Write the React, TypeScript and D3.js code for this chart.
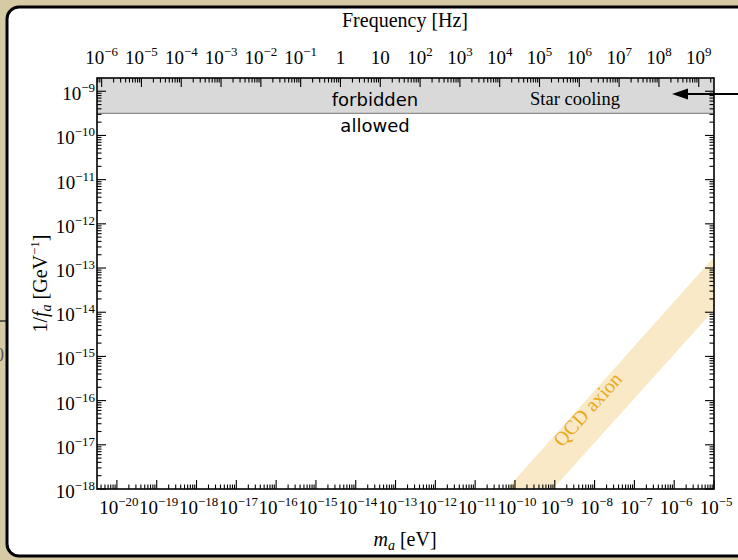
import React from 'react'
import * as d3 from 'd3'

// values
const massExponents = [-20, -19, -18, -17, -16, -15, -14, -13, -12, -11, -10, -9, -8, -7, -6, -5]
const freqLabels = ['−6', '−5', '−4', '−3', '−2', '−1', '1', '10', '2', '3', '4', '5', '6', '7', '8', '9']
const freqExponents = [-6, -5, -4, -3, -2, -1, 0, 1, 2, 3, 4, 5, 6, 7, 8, 9]
const invFaExponents = [-18, -17, -16, -15, -14, -13, -12, -11, -10, -9]
const starCoolingLimit = 10 ** -9.5
// QCD axion band edges (mass in eV, 1/f_a in GeV^-1)
const qcdMass = [1e-11, 1e-5]
const qcdUpper = [10 ** -18.8, 10 ** -12.75]
const qcdLower = [10 ** -19.95, 10 ** -13.95]

const HZ_PER_EV = 2.418e14

const W = 738
const H = 560
const left = 97, right = 714, top = 78, bottom = 489

const serif = '"Liberation Serif", "Times New Roman", serif'
const sans = '"DejaVu Sans", sans-serif'

function Pow({ x, y, exp, anchor, size = 19 }: any) {
  return (
    <text x={x} y={y} textAnchor={anchor} fontFamily={serif} fontSize={size} fill="#000">
      10<tspan dy={-8} fontSize={size * 0.68}>{exp}</tspan>
    </text>
  )
}

export default function App() {
  const x = d3.scaleLog().domain([10 ** -20.5, 1e-5]).range([left, right])
  const y = d3.scaleLog().domain([1e-18, 10 ** -8.7]).range([bottom, top])
  const xf = (f: number) => x(f / HZ_PER_EV)

  // minor tick values for each decade
  const minors = (lo: number, hi: number) => {
    const out: number[] = []
    for (let e = lo; e <= hi; e++) for (let k = 2; k <= 9; k++) out.push(k * 10 ** e)
    return out
  }
  const inX = (v: number) => v >= x.domain()[0] && v <= x.domain()[1]
  const inY = (v: number) => v >= y.domain()[0] && v <= y.domain()[1]

  const massMajor = massExponents.map(e => 10 ** e)
  const massMinor = minors(-21, -6).filter(inX)
  const freqMajor = freqExponents.map(e => 10 ** e)
  const freqMinor = minors(-7, 9).filter(f => inX(f / HZ_PER_EV))
  const yMajor = invFaExponents.map(e => 10 ** e)
  const yMinor = minors(-18, -9).filter(inY)

  const band = d3.area<number>()
    .x((_, i) => x(qcdMass[i]))
    .y0((_, i) => y(qcdLower[i]))
    .y1((_, i) => y(qcdUpper[i]))

  const ang = -Math.atan((y(1e-14) - y(1e-13)) / (x(1e-9) - x(1e-10))) * 180 / Math.PI

  return (
    <svg width={W} height={H} style={{ position: 'absolute', left: 0, top: 0 }}>
      <rect x={0} y={0} width={W} height={H} fill="#d6caa4" />
      {/* slide leftovers at the left edge */}
      <line x1={0} x2={7} y1={321} y2={321} stroke="#333" strokeWidth={1.5} />
      <text x={-5} y={361} fontFamily={serif} fontSize={18} fill="#555">0</text>

      <rect x={7} y={7} width={745} height={549} rx={12} fill="#fff" stroke="#000" strokeWidth={3} />

      <defs>
        <clipPath id="plot">
          <rect x={left} y={top} width={right - left} height={bottom - top} />
        </clipPath>
      </defs>

      {/* forbidden region */}
      <rect x={left} y={top} width={right - left} height={y(starCoolingLimit) - top} fill="#d9d9d9" />
      <line x1={left} x2={right} y1={y(starCoolingLimit)} y2={y(starCoolingLimit)} stroke="#8c8c8c" strokeWidth={1.2} />

      <g clipPath="url(#plot)">
        <path d={band([0, 1]) || ''} fill="#fae9c6" />
      </g>
      <text transform={`translate(${x(10 ** -8.05)},${y(10 ** -16.3)}) rotate(${ang})`} textAnchor="middle"
        fontFamily={serif} fontSize={20} fill="#e9a91b">QCD axion</text>

      <text x={375} y={106} textAnchor="middle" fontFamily={sans} fontSize={18}>forbidden</text>
      <text x={375} y={132} textAnchor="middle" fontFamily={sans} fontSize={18}>allowed</text>
      <text x={575} y={105} textAnchor="middle" fontFamily={serif} fontSize={18.5}>Star cooling</text>

      {/* ticks */}
      <g stroke="#000" strokeWidth={1.1}>
        {massMajor.map((v, i) => <line key={'bM' + i} x1={x(v)} x2={x(v)} y1={bottom} y2={bottom - 9} />)}
        {massMinor.map((v, i) => <line key={'bm' + i} x1={x(v)} x2={x(v)} y1={bottom} y2={bottom - 4.5} />)}
        {freqMajor.map((v, i) => <line key={'tM' + i} x1={xf(v)} x2={xf(v)} y1={top} y2={top + 9} />)}
        {freqMinor.map((v, i) => <line key={'tm' + i} x1={xf(v)} x2={xf(v)} y1={top} y2={top + 4.5} />)}
        {yMajor.map((v, i) => (
          <g key={'yM' + i}>
            <line x1={left} x2={left + 9} y1={y(v)} y2={y(v)} />
            <line x1={right} x2={right - 9} y1={y(v)} y2={y(v)} />
          </g>
        ))}
        {yMinor.map((v, i) => (
          <g key={'ym' + i}>
            <line x1={left} x2={left + 4.5} y1={y(v)} y2={y(v)} />
            <line x1={right} x2={right - 4.5} y1={y(v)} y2={y(v)} />
          </g>
        ))}
      </g>
      <rect x={left} y={top} width={right - left} height={bottom - top} fill="none" stroke="#000" strokeWidth={1.6} />

      {/* tick labels */}
      {massExponents.map((e, i) => (
        <Pow key={'bl' + i} x={x(10 ** e) + 2} y={514} exp={'−' + Math.abs(e)} anchor="middle" />
      ))}
      {freqExponents.map((e, i) => (
        e === 0 || e === 1
          ? <text key={'tl' + i} x={xf(10 ** e)} y={64} textAnchor="middle" fontFamily={serif} fontSize={19}>{freqLabels[i]}</text>
          : <Pow key={'tl' + i} x={xf(10 ** e)} y={64} exp={freqLabels[i]} anchor="middle" />
      ))}
      {invFaExponents.map((e, i) => (
        <Pow key={'yl' + i} x={95} y={y(10 ** e) + 9} exp={'−' + Math.abs(e)} anchor="end" />
      ))}

      {/* axis titles */}
      <text x={405} y={27} textAnchor="middle" fontFamily={serif} fontSize={20}>Frequency [Hz]</text>
      <text x={405} y={546} textAnchor="middle" fontFamily={serif} fontSize={20}>
        <tspan fontStyle="italic">m</tspan><tspan fontStyle="italic" dy={4} fontSize={14}>a</tspan><tspan dy={-4}> [eV]</tspan>
      </text>
      <text transform={`translate(47,${(top + bottom) / 2}) rotate(-90)`} textAnchor="middle" fontFamily={serif} fontSize={20}>
        1/<tspan fontStyle="italic">f</tspan><tspan fontStyle="italic" dy={4} fontSize={14}>a</tspan>
        <tspan dy={-4}> [GeV</tspan><tspan dy={-8} fontSize={13}>−1</tspan><tspan dy={8}>]</tspan>
      </text>

      {/* arrow pointing to the star cooling bound */}
      <line x1={W} x2={684} y1={94} y2={94} stroke="#000" strokeWidth={2.2} />
      <path d="M672,94 L688,88.5 L688,99.5 Z" fill="#000" />
    </svg>
  )
}
